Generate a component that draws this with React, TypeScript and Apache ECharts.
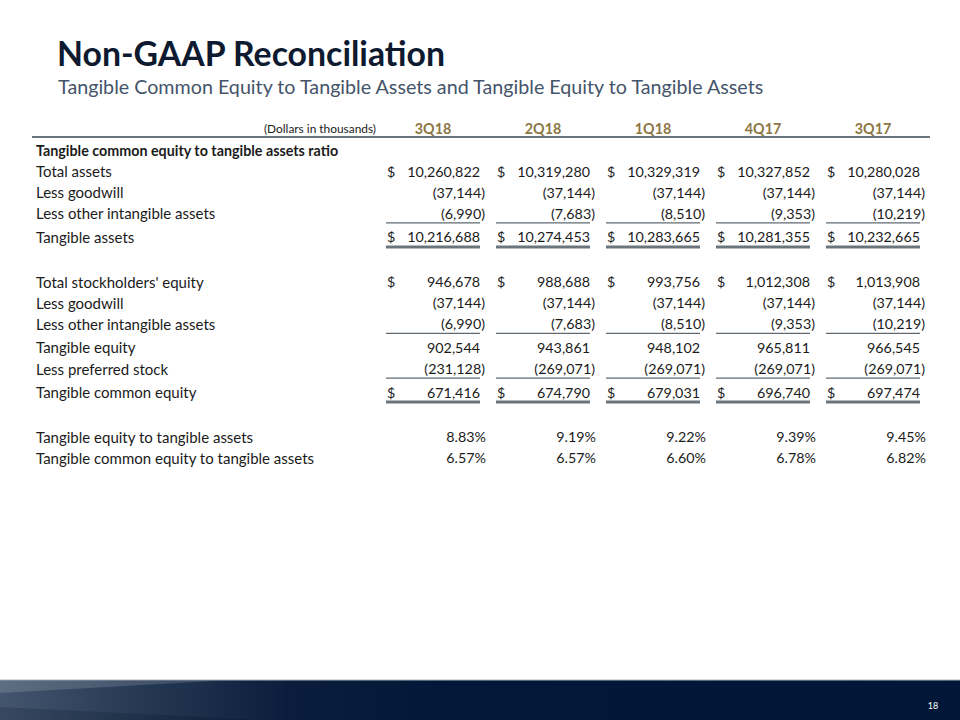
import React, { useEffect, useRef } from "react";
import * as echarts from "echarts";

// ---------- data ----------
const periods = ["3Q18", "2Q18", "1Q18", "4Q17", "3Q17"];
const totalAssets = [10260822, 10319280, 10329319, 10327852, 10280028];
const goodwill = [-37144, -37144, -37144, -37144, -37144];
const otherIntangibles = [-6990, -7683, -8510, -9353, -10219];
const tangibleAssets = [10216688, 10274453, 10283665, 10281355, 10232665];
const totalEquity = [946678, 988688, 993756, 1012308, 1013908];
const tangibleEquity = [902544, 943861, 948102, 965811, 966545];
const preferredStock = [-231128, -269071, -269071, -269071, -269071];
const tangibleCommonEquity = [671416, 674790, 679031, 696740, 697474];
const tangibleEquityRatio = [8.83, 9.19, 9.22, 9.39, 9.45];
const tceRatio = [6.57, 6.57, 6.6, 6.78, 6.82];

const title = "Non-GAAP Reconciliation";
const subtitle =
  "Tangible Common Equity to Tangible Assets and Tangible Equity to Tangible Assets";
const unitsLabel = "(Dollars in thousands)";
const pageNumber = "18";

type Row = {
  label: string;
  values?: number[];
  bold?: boolean;
  dollar?: boolean;
  pct?: boolean;
  under?: "single" | "double";
};

const rows: Row[] = [
  { label: "Tangible common equity to tangible assets ratio", bold: true },
  { label: "Total assets", values: totalAssets, dollar: true },
  { label: "Less goodwill", values: goodwill },
  { label: "Less other intangible assets", values: otherIntangibles, under: "single" },
  { label: "Tangible assets", values: tangibleAssets, dollar: true, under: "double" },
  { label: "" },
  { label: "Total stockholders' equity", values: totalEquity, dollar: true },
  { label: "Less goodwill", values: goodwill },
  { label: "Less other intangible assets", values: otherIntangibles, under: "single" },
  { label: "Tangible equity", values: tangibleEquity },
  { label: "Less preferred stock", values: preferredStock, under: "single" },
  { label: "Tangible common equity", values: tangibleCommonEquity, dollar: true, under: "double" },
  { label: "" },
  { label: "Tangible equity to tangible assets", values: tangibleEquityRatio, pct: true },
  { label: "Tangible common equity to tangible assets", values: tceRatio, pct: true },
];

// ---------- layout ----------
const FONT = 'Lato, "Open Sans", sans-serif';
const TEXT = "#1b1b1b";
const BODY = 15;
const NUM = 14.3;
const parenEnds = [485, 595, 705, 815, 925];
const rowTop = 150;
const rowH = 21.1;
const underGap = 2.5;

function fmtNum(v: number): string {
  const s = Math.abs(v).toLocaleString("en-US");
  return v < 0 ? `(${s})` : s;
}

function txt(
  x: number,
  y: number,
  text: string,
  size: number,
  opts: { align?: string; weight?: string; fill?: string; family?: string } = {}
) {
  const align = opts.align || "left";
  return {
    type: "text",
    x,
    y,
    silent: true,
    style: {
      text,
      fontSize: size,
      fontFamily: opts.family || FONT,
      fontWeight: opts.weight || "normal",
      fill: opts.fill || TEXT,
      align,
      textAlign: align,
      verticalAlign: "middle",
      textVerticalAlign: "middle",
    },
  };
}

function buildGraphics() {
  const g: any[] = [];
  // title
  g.push(txt(57, 53, title, 33.8, { weight: "bold", fill: "#0e1a2f" }));
  g.push(txt(58, 86, subtitle, 19.7, { fill: "#44546a" }));

  // header
  g.push(txt(376, 128, unitsLabel, 11.9, { align: "right" }));
  periods.forEach((p, i) => {
    g.push(txt(parenEnds[i] - 52, 128, p, 14.3, { align: "center", weight: "bold", fill: "#8c7645" }));
  });
  g.push({
    type: "rect",
    silent: true,
    shape: { x: 32, y: 136, width: 898, height: 2 },
    style: { fill: "#6b757c" },
  });

  // rows
  let y = rowTop;
  rows.forEach((r, ri) => {
    if (ri > 0) {
      const prev = rows[ri - 1];
      y += rowH + (prev.under ? underGap : 0);
    }
    if (r.label) {
      g.push(txt(36, y, r.label, r.bold ? 14.3 : BODY, { weight: r.bold ? "bold" : "normal" }));
    }
    if (r.values) {
      r.values.forEach((v, i) => {
        const pe = parenEnds[i];
        if (r.pct) {
          g.push(txt(pe + 1, y, v.toFixed(2) + "%", NUM, { align: "right" }));
        } else {
          const rightX = v < 0 ? pe : pe - 5;
          g.push(txt(rightX, y, fmtNum(v), NUM, { align: "right" }));
          if (r.dollar) g.push(txt(pe - 98, y, "$", NUM));
        }
        if (r.under === "single") {
          g.push({
            type: "rect",
            silent: true,
            shape: { x: pe - 99, y: y + 9, width: 94, height: 1.3 },
            style: { fill: "#5f6a72" },
          });
        } else if (r.under === "double") {
          g.push({
            type: "rect",
            silent: true,
            shape: { x: pe - 99, y: y + 8.5, width: 94, height: 3 },
            style: { fill: "#6b757c" },
          });
        }
      });
    }
  });

  // footer band
  g.push({
    type: "rect",
    silent: true,
    shape: { x: 0, y: 680, width: 960, height: 40 },
    style: {
      fill: new echarts.graphic.LinearGradient(0, 0, 1, 0, [
        { offset: 0, color: "#44566e" },
        { offset: 0.12, color: "#2b3e58" },
        { offset: 0.3, color: "#0a1d3c" },
        { offset: 0.45, color: "#031838" },
        { offset: 1, color: "#021737" },
      ]),
    },
  });
  g.push({
    type: "polygon",
    silent: true,
    shape: { points: [[0, 681], [215, 681], [0, 693]] },
    style: { fill: "rgba(255,255,255,0.14)" },
  });
  g.push({
    type: "polygon",
    silent: true,
    shape: { points: [[0, 707], [260, 720], [0, 720]] },
    style: { fill: "rgba(0,10,30,0.18)" },
  });
  g.push({
    type: "rect",
    silent: true,
    shape: { x: 0, y: 679.5, width: 960, height: 1 },
    style: { fill: "#aeb7c1" },
  });
  g.push(txt(933, 705, pageNumber, 9, { align: "center", fill: "#ffffff" }));
  return g;
}

export default function App() {
  const ref = useRef<HTMLDivElement>(null);
  useEffect(() => {
    document.body.style.margin = "0";
    if (!ref.current) return;
    const chart = echarts.init(ref.current, null, { renderer: "svg" });
    chart.setOption({
      animation: false,
      backgroundColor: "#ffffff",
      graphic: { elements: buildGraphics() },
    });
    return () => chart.dispose();
  }, []);
  return <div ref={ref} style={{ width: 960, height: 720 }} />;
}
